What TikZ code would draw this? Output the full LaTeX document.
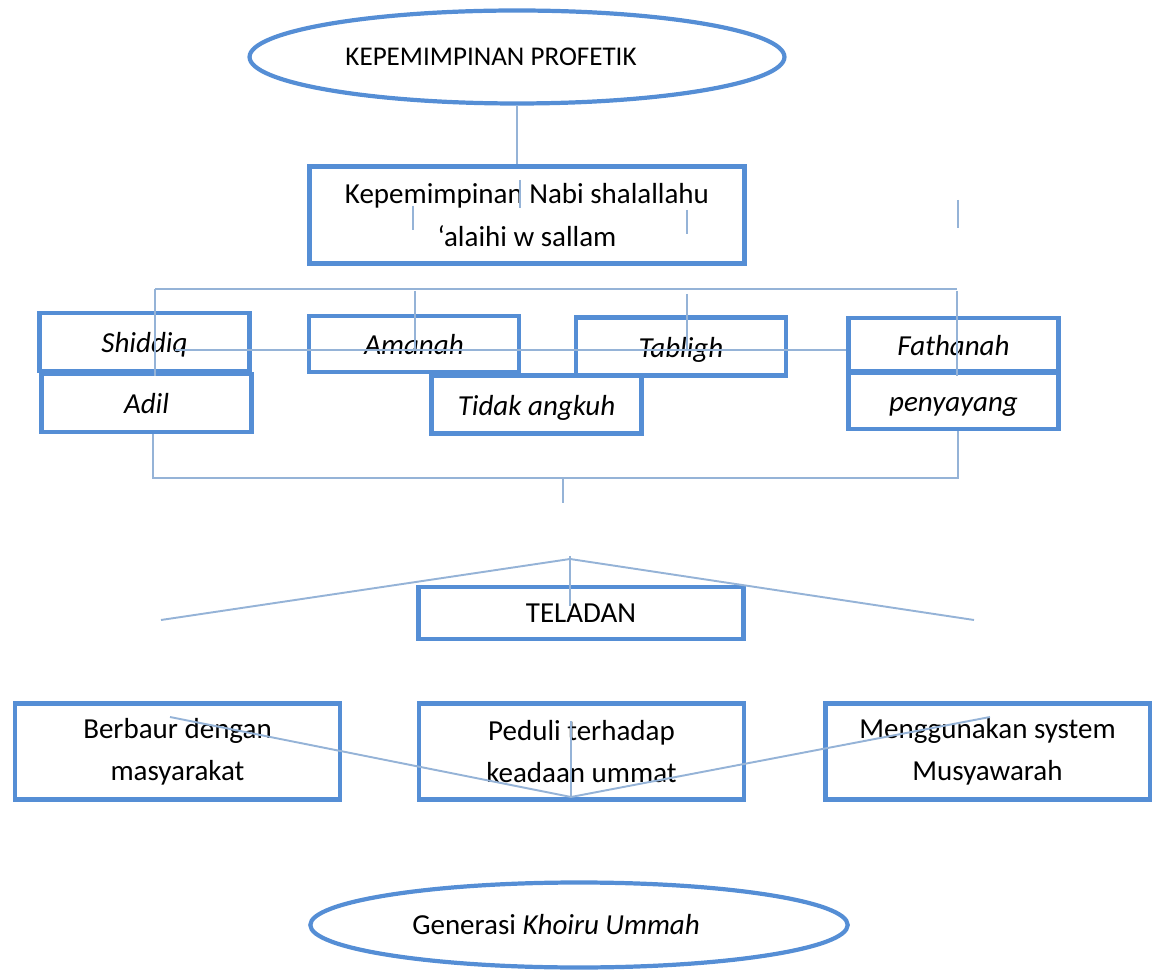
\documentclass[tikz,border=0pt]{standalone}
\usepackage{fontspec}
\setmainfont{Carlito}
\usepackage{xcolor}
\usepackage{tikz}
\usetikzlibrary{shapes.geometric}

\definecolor{boxblue}{RGB}{85,142,213}
\definecolor{linkblue}{RGB}{149,179,215}
\newcommand{\diagfont}{\fontsize{16.5}{24}\selectfont}

\tikzset{
  oval/.style={draw=boxblue, line width=2.4pt, ellipse, inner sep=0pt, font=\diagfont},
  box/.style={draw=boxblue, line width=2.8pt, inner sep=0pt, align=center, font=\diagfont},
  sifat/.style={box, minimum width=4.2cm, minimum height=1.16cm, text height=14pt, text depth=1.6pt, font=\diagfont\itshape},
  link/.style={draw=linkblue, line width=1.1pt},
}

\begin{document}
\begin{tikzpicture}[x=0.02cm, y=-0.02cm]
    \useasboundingbox (0,0) rectangle (1163,972);
    % top
    \node[oval, minimum width=10.7cm, minimum height=1.86cm, font=\fontsize{15.4}{20}\selectfont] (head) at (517,57) {KEPEMIMPINAN PROFETIK\hspace*{1.04cm}};
    \node[box, minimum width=8.7cm, minimum height=1.94cm] (nabi) at (527,215) {Kepemimpinan Nabi shalallahu\\‘alaihi w sallam};
    % sifat
    \node[sifat] (shiddiq) at (144.5,342) {Shiddiq};
    \node[sifat] (adil) at (146.5,403) {Adil};
    \node[sifat, minimum height=1.12cm] (amanah) at (414,344) {Amanah};
    \node[sifat] (tidak) at (536.5,404.5) {Tidak angkuh};
    \node[sifat] (tabligh) at (681,346.5) {Tabligh};
    \node[sifat, minimum height=1.06cm] (fathanah) at (953.5,344.5) {Fathanah};
    \node[sifat, minimum height=1.12cm] (penyayang) at (953.5,401) {penyayang};
    % teladan
    \node[box, minimum width=6.5cm, minimum height=1.04cm] (teladan) at (581,613) {TELADAN};
    \node[box, minimum width=6.5cm, minimum height=1.92cm] (berbaur) at (177.5,751.5) {Berbaur dengan\\masyarakat};
    \node[box, minimum width=6.5cm, minimum height=1.92cm] (peduli) at (581.5,751.5) {Peduli terhadap\\keadaan ummat};
    \node[box, minimum width=6.5cm, minimum height=1.92cm] (musyawarah) at (987.5,751.5) {Menggunakan system\\Musyawarah};
    \node[oval, minimum width=10.75cm, minimum height=1.7cm] (khoiru) at (579,925) {Generasi \textit{Khoiru Ummah}\hspace*{0.92cm}};

    % connectors
    \draw[link] (head) -- (head |- nabi.north);
    \coordinate (t1) at (520,180);
    \coordinate (t2) at (413,206);
    \coordinate (t3) at (687,210);
    \coordinate (t4) at (958,200);
    \draw[link] (t1) -- ++(0,28);
    \draw[link] (t2) -- ++(0,24);
    \draw[link] (t3) -- ++(0,24);
    \draw[link] (t4) -- ++(0,28);

    \coordinate (bl) at (155,289);
    \coordinate (br) at (957,289);
    \draw[link] (bl) -- (br);
    \draw[link] (bl) -- (155,376);
    \draw[link] (415,291) -- (415,351);
    \draw[link] (687,294) -- (687,351);
    \draw[link] (957,291) -- (957,376);
    \coordinate (ml) at (175,350);
    \draw[link] (ml) -- (ml -| fathanah.west);

    \coordinate (adilfoot) at (153,478);
    \coordinate (penfoot) at (958,478);
    \coordinate (midfoot) at (563,478);
    \draw[link] (adilfoot |- adil.south) -- (adilfoot) -- (penfoot) -- (penfoot |- penyayang.south);
    \draw[link] (midfoot) -- ++(0,25);

    \coordinate (apex) at (570,559);
    \draw[link] (161,620) -- (apex) -- (974,620);
    \draw[link] (570,556) -- (570,606);

    \coordinate (vee) at (571,797);
    \draw[link] (170,717) -- (vee) -- (990,717);
    \draw[link] (571,721) -- (vee);
\end{tikzpicture}
\end{document}
